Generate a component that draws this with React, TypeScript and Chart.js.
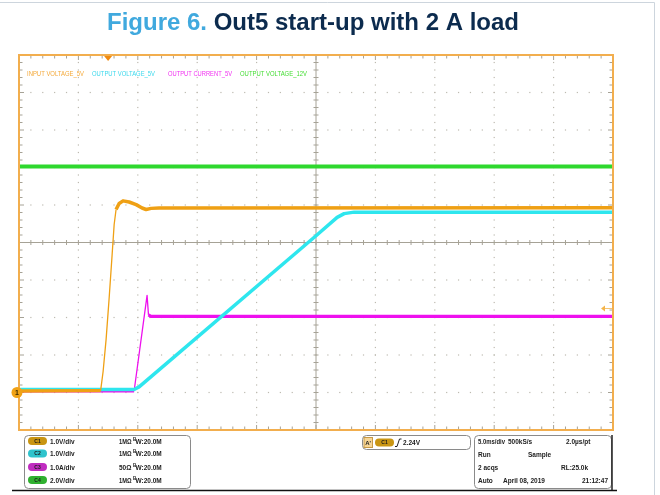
import React, { useEffect, useRef } from "react";
import { Chart, registerables } from "chart.js";

Chart.register(...registerables);

// Time axis in ms (trigger at 0 ms), 5 ms/div, 10 divisions
const TIME_MIN = -7.5;
const TIME_MAX = 42.5;

// C1 – INPUT VOLTAGE_5V (V, 1 V/div)
const orangeTime = [-7.5, -0.63, -0.42, -0.17, 0.08, 0.34, 0.51, 0.67, 0.93, 1.26, 1.77, 2.36, 2.86, 3.2, 3.62, 4.29, 42.5];
const orangeVolts = [0.04, 0.05, 0.56, 1.41, 2.48, 3.68, 4.48, 4.88, 5.04, 5.11, 5.08, 5.01, 4.92, 4.88, 4.91, 4.92, 4.93];

// C2 – OUTPUT VOLTAGE_5V (V, 1 V/div)
const cyanTime = [-7.5, 2.19, 2.61, 17.43, 19.28, 19.87, 20.71, 42.5];
const cyanVolts = [0.08, 0.08, 0.15, 4.16, 4.67, 4.77, 4.81, 4.81];

// C3 – OUTPUT CURRENT_5V (A, 1 A/div)
const magentaTime = [-7.5, 2.19, 3.28, 3.4, 3.6, 42.5];
const magentaAmps = [0.04, 0.04, 2.59, 2.07, 2.03, 2.03];

// C4 – OUTPUT VOLTAGE_12V (V, 2 V/div)
const greenTime = [-7.5, 42.5];
const greenVolts = [12.06, 12.06];

const channelNames = ["INPUT VOLTAGE_5V", "OUTPUT VOLTAGE_5V", "OUTPUT CURRENT_5V", "OUTPUT VOLTAGE_12V"];
const channelScales = [1, 1, 1, 2];
const channelScaleLabels = ["1.0V/div", "1.0V/div", "1.0A/div", "2.0V/div"];
const channelImpedance = ["1M\u03A9", "1M\u03A9", "50\u03A9", "1M\u03A9"];
const channelBandwidth = ["W:20.0M", "W:20.0M", "W:20.0M", "W:20.0M"];
const TRIGGER_LEVEL = 2.24;
const GROUND_DIV = -4;

const traceColors = ["#EFA014", "#2EE6EE", "#EE10EE", "#2ED82E"];
const labelColors = ["#F4A93A", "#3BD8EC", "#F030F0", "#44DD33"];
const pillColors = ["#C99512", "#2FC3CC", "#C02CC0", "#2FB02F"];

const toPoints = (t: number[], v: number[], scale: number) =>
  t.map((x, i) => ({ x, y: v[i] / scale + GROUND_DIV }));

function roundRect(ctx: CanvasRenderingContext2D, x: number, y: number, w: number, h: number, r: number) {
  ctx.beginPath();
  ctx.moveTo(x + r, y);
  ctx.lineTo(x + w - r, y);
  ctx.arcTo(x + w, y, x + w, y + r, r);
  ctx.lineTo(x + w, y + h - r);
  ctx.arcTo(x + w, y + h, x + w - r, y + h, r);
  ctx.lineTo(x + r, y + h);
  ctx.arcTo(x, y + h, x, y + h - r, r);
  ctx.lineTo(x, y + r);
  ctx.arcTo(x, y, x + r, y, r);
  ctx.closePath();
}

function pill(ctx: CanvasRenderingContext2D, x: number, cy: number, color: string, label: string) {
  roundRect(ctx, x, cy - 4, 19, 8, 4);
  ctx.fillStyle = color;
  ctx.fill();
  ctx.fillStyle = "#1a1a1a";
  ctx.font = "bold 5px 'Liberation Sans', Arial, sans-serif";
  ctx.textAlign = "center";
  ctx.textBaseline = "middle";
  ctx.fillText(label, x + 9.5, cy + 0.5);
  ctx.textAlign = "left";
  ctx.textBaseline = "alphabetic";
}

const PANEL_FONT = "bold 6.5px 'Liberation Sans', Arial, sans-serif";

const scopePlugin = {
  id: "scopeDecor",
  beforeDatasetsDraw(chart: any) {
    const ctx: CanvasRenderingContext2D = chart.ctx;
    const { left, right, top, bottom } = chart.chartArea;
    const dx = (right - left) / 10;
    const dy = (bottom - top) / 10;
    ctx.save();
    ctx.fillStyle = "#fff";
    ctx.fillRect(left, top, right - left, bottom - top);
    // dotted graticule
    ctx.fillStyle = "#bdbab0";
    for (let i = 1; i < 10; i++) {
      if (i === 5) continue;
      const x = left + i * dx;
      for (let j = 1; j < 50; j++) {
        const y = top + (j * dy) / 5;
        ctx.fillRect(x - 0.6, y - 0.6, 1.2, 1.2);
      }
      const y2 = top + i * dy;
      for (let j = 1; j < 50; j++) {
        const xx = left + (j * dx) / 5;
        ctx.fillRect(xx - 0.6, y2 - 0.6, 1.2, 1.2);
      }
    }
    // center cross with ticks
    const cx = left + 5 * dx;
    const cy = top + 5 * dy;
    ctx.strokeStyle = "#a6a296";
    ctx.lineWidth = 1;
    ctx.beginPath();
    ctx.moveTo(left, cy);
    ctx.lineTo(right, cy);
    ctx.moveTo(cx, top);
    ctx.lineTo(cx, bottom);
    for (let j = 1; j < 50; j++) {
      const xx = left + (j * dx) / 5;
      ctx.moveTo(xx, cy - 2.5);
      ctx.lineTo(xx, cy + 2.5);
      const yy = top + (j * dy) / 5;
      ctx.moveTo(cx - 2.5, yy);
      ctx.lineTo(cx + 2.5, yy);
    }
    // edge ticks
    for (let j = 1; j < 50; j++) {
      const major = j % 5 === 0;
      const len = major ? 5 : 3.5;
      const xx = left + (j * dx) / 5;
      ctx.moveTo(xx, top);
      ctx.lineTo(xx, top + len);
      ctx.moveTo(xx, bottom);
      ctx.lineTo(xx, bottom - len);
      const yy = top + (j * dy) / 5;
      ctx.moveTo(left, yy);
      ctx.lineTo(left + len, yy);
      ctx.moveTo(right, yy);
      ctx.lineTo(right - len, yy);
    }
    ctx.stroke();
    ctx.restore();
  },
  afterDatasetsDraw(chart: any) {
    const ctx: CanvasRenderingContext2D = chart.ctx;
    const { left, right, top, bottom } = chart.chartArea;
    const xs = chart.scales.x;
    const ys = chart.scales.y;
    ctx.save();
    // frame
    ctx.strokeStyle = "#F2AE4E";
    ctx.lineWidth = 2;
    ctx.strokeRect(left, top, right - left, bottom - top);

    // channel labels
    ctx.font = "8px 'Liberation Sans', Arial, sans-serif";
    ctx.textBaseline = "alphabetic";
    const lx = [27, 92, 168, 240];
    const lw = [57, 63, 64, 67];
    channelNames.forEach((n, i) => {
      ctx.fillStyle = labelColors[i];
      ctx.fillText(n, lx[i], top + 21, lw[i]);
    });

    // trigger position marker (top)
    const tx = xs.getPixelForValue(0);
    ctx.fillStyle = "#F08A10";
    ctx.beginPath();
    ctx.moveTo(tx - 4, top + 1);
    ctx.lineTo(tx + 4, top + 1);
    ctx.lineTo(tx, top + 6);
    ctx.closePath();
    ctx.fill();

    // trigger level marker (right)
    const ty = ys.getPixelForValue(TRIGGER_LEVEL / channelScales[0] + GROUND_DIV);
    ctx.fillStyle = "#F5B54A";
    ctx.beginPath();
    ctx.moveTo(right - 12, ty);
    ctx.lineTo(right - 8, ty - 3);
    ctx.lineTo(right - 8, ty + 3);
    ctx.closePath();
    ctx.fill();
    ctx.strokeStyle = "#F5C475";
    ctx.lineWidth = 1;
    ctx.beginPath();
    ctx.moveTo(right - 8, ty);
    ctx.lineTo(right - 1, ty);
    ctx.stroke();

    // ground marker
    const gy = ys.getPixelForValue(GROUND_DIV);
    ctx.fillStyle = "#F0A216";
    ctx.beginPath();
    ctx.arc(left - 2, gy, 5.5, 0, Math.PI * 2);
    ctx.fill();
    ctx.fillStyle = "#3a2a00";
    ctx.font = "bold 7px 'Liberation Sans', Arial, sans-serif";
    ctx.textAlign = "center";
    ctx.textBaseline = "middle";
    ctx.fillText("1", left - 2, gy + 0.5);
    ctx.restore();
  },
  afterDraw(chart: any) {
    const ctx: CanvasRenderingContext2D = chart.ctx;
    ctx.save();
    // page border
    ctx.strokeStyle = "#cdd5dd";
    ctx.lineWidth = 1;
    ctx.beginPath();
    ctx.moveTo(0, 2.5);
    ctx.lineTo(654.5, 2.5);
    ctx.lineTo(654.5, 495);
    ctx.stroke();

    // title
    ctx.textBaseline = "alphabetic";
    ctx.textAlign = "left";
    ctx.font = "bold 24px 'Liberation Sans', Arial, sans-serif";
    const p1 = "Figure 6. ";
    const p2 = "Out5 start-up with 2 A load";
    const w1 = ctx.measureText(p1).width;
    const w2 = ctx.measureText(p2).width;
    const x0 = 313 - (w1 + w2) / 2;
    ctx.fillStyle = "#40A9DE";
    ctx.fillText(p1, x0, 30);
    ctx.fillStyle = "#0C2B4E";
    ctx.fillText(p2, x0 + w1, 30);

    // bottom line
    ctx.strokeStyle = "#111";
    ctx.lineWidth = 1.5;
    ctx.beginPath();
    ctx.moveTo(12, 490.5);
    ctx.lineTo(617, 490.5);
    ctx.stroke();

    // left channel box
    ctx.strokeStyle = "#8a8a8a";
    ctx.lineWidth = 1;
    roundRect(ctx, 24.5, 435.5, 166, 53, 4);
    ctx.stroke();
    const rows = [441, 453.5, 467, 480];
    rows.forEach((cy, i) => {
      pill(ctx, 28, cy, pillColors[i], "C" + (i + 1));
      ctx.fillStyle = "#222";
      ctx.font = PANEL_FONT;
      ctx.fillText(channelScaleLabels[i], 50, cy + 2.5);
      ctx.fillText(channelImpedance[i], 119, cy + 2.5, 12.5);
      ctx.font = "bold 4.5px 'Liberation Sans', Arial, sans-serif";
      ctx.fillText("B", 133, cy - 0.5);
      ctx.font = PANEL_FONT;
      ctx.fillText(channelBandwidth[i], 135.5, cy + 2.5);
    });

    // trigger box
    ctx.strokeStyle = "#8a8a8a";
    roundRect(ctx, 362.5, 435.5, 108, 14, 4);
    ctx.stroke();
    ctx.fillStyle = "#F6D595";
    ctx.fillRect(364, 437.5, 8.5, 10);
    ctx.strokeStyle = "#C89A45";
    ctx.strokeRect(364, 437.5, 8.5, 10);
    ctx.fillStyle = "#222";
    ctx.font = "bold 6px 'Liberation Sans', Arial, sans-serif";
    ctx.fillText("A'", 365.2, 445);
    pill(ctx, 375, 442.5, pillColors[0], "C1");
    ctx.strokeStyle = "#222";
    ctx.lineWidth = 1;
    ctx.beginPath();
    ctx.moveTo(395, 446.5);
    ctx.lineTo(397, 446.5);
    ctx.lineTo(399.5, 439);
    ctx.lineTo(401.5, 439);
    ctx.stroke();
    ctx.font = PANEL_FONT;
    ctx.fillText(TRIGGER_LEVEL.toFixed(2) + "V", 403, 445);

    // acquisition box
    ctx.strokeStyle = "#8a8a8a";
    roundRect(ctx, 474.5, 435.5, 137, 53, 4);
    ctx.stroke();
    ctx.strokeStyle = "#222";
    ctx.lineWidth = 1.5;
    ctx.beginPath();
    ctx.moveTo(612, 435);
    ctx.lineTo(612, 490);
    ctx.stroke();
    ctx.fillStyle = "#222";
    ctx.font = PANEL_FONT;
    ctx.fillText("5.0ms/div", 478, 444, 27);
    ctx.fillText("500kS/s", 508, 444);
    ctx.fillText("2.0\u00B5s/pt", 566, 444);
    ctx.fillText("Run", 478, 457);
    ctx.fillText("Sample", 528, 457);
    ctx.fillText("2 acqs", 478, 470);
    ctx.fillText("RL:25.0k", 561, 470);
    ctx.fillText("Auto", 478, 482.5);
    ctx.fillText("April 08, 2019", 503, 482.5);
    ctx.fillText("21:12:47", 582, 482.5);
    ctx.restore();
  },
};

const edgeWidth = (thick: number, thin: number) => (c: any) => {
  const ddx = Math.abs(c.p1.x - c.p0.x);
  const ddy = Math.abs(c.p1.y - c.p0.y);
  return ddy > 4 * ddx ? thin : thick;
};

export default function App() {
  const ref = useRef<HTMLCanvasElement | null>(null);
  useEffect(() => {
    if (!ref.current) return;
    const chart = new Chart(ref.current, {
      type: "line",
      data: {
        datasets: [
          {
            label: channelNames[0],
            data: toPoints(orangeTime, orangeVolts, channelScales[0]),
            borderColor: traceColors[0],
            borderWidth: 3.5,
            segment: { borderWidth: edgeWidth(3.5, 1.3) },
            order: 1,
          },
          {
            label: channelNames[1],
            data: toPoints(cyanTime, cyanVolts, channelScales[1]),
            borderColor: traceColors[1],
            borderWidth: 3.5,
            order: 2,
          },
          {
            label: channelNames[2],
            data: toPoints(magentaTime, magentaAmps, channelScales[2]),
            borderColor: traceColors[2],
            borderWidth: 3.2,
            segment: { borderWidth: edgeWidth(3.2, 1.3) },
            order: 3,
          },
          {
            label: channelNames[3],
            data: toPoints(greenTime, greenVolts, channelScales[3]),
            borderColor: traceColors[3],
            borderWidth: 4,
            order: 4,
          },
        ],
      },
      options: {
        responsive: false,
        animation: false,
        devicePixelRatio: 1,
        parsing: false as any,
        layout: { padding: { left: 19, top: 55, right: 47, bottom: 65 } },
        plugins: {
          legend: { display: false },
          tooltip: { enabled: false },
          title: { display: false },
        },
        elements: {
          point: { radius: 0 },
          line: { tension: 0, borderJoinStyle: "round" as any },
        },
        scales: {
          x: { type: "linear", display: false, min: TIME_MIN, max: TIME_MAX },
          y: { type: "linear", display: false, min: -5, max: 5 },
        },
      },
      plugins: [scopePlugin],
    });
    return () => chart.destroy();
  }, []);
  return (
    <div style={{ position: "absolute", left: 0, top: 0, width: 660, height: 495, background: "#fff" }}>
      <canvas ref={ref} width={660} height={495} style={{ display: "block" }} />
    </div>
  );
}
